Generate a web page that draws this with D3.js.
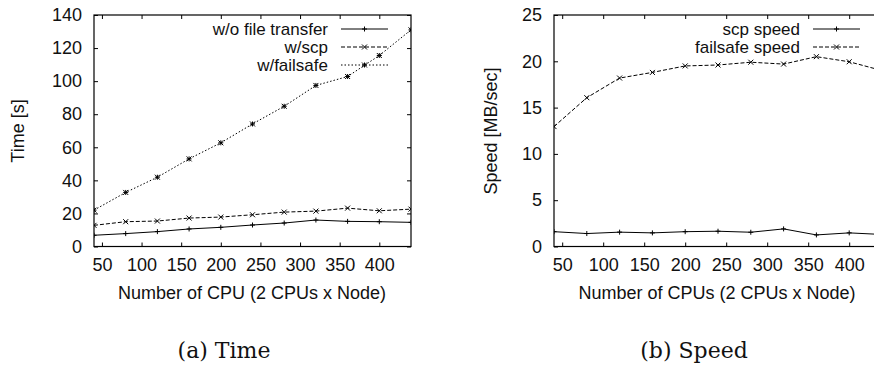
<!DOCTYPE html>
<html>
<head>
    <meta charset="utf-8">
    <title>Time / Speed</title>
    <style type="text/css">
        body {
            margin: 0;
            padding: 0;
            background: #fff;
        }

        text {
            font-family: "Liberation Sans", Arial, Helvetica, sans-serif;
            font-size: 18px;
            fill: #111;
        }

        .legend {
            font-size: 17px;
        }

        .caption {
            font-family: "DejaVu Serif", "Liberation Serif", serif;
            font-size: 22px;
        }
    </style>
</head>
<body>
    <svg id="chart" width="874" height="374"></svg>
    <script src="https://cdnjs.cloudflare.com/ajax/libs/d3/7.8.5/d3.min.js"></script>
    <script>
        // number of CPUs on the x axis (both panels)
        var cpus = [40, 80, 120, 160, 200, 240, 280, 320, 360, 400, 440];

        // (a) time in seconds
        var timeNoTransfer = [6.8, 7.8, 9.0, 10.6, 11.6, 13.0, 14.2, 16.0, 15.2, 15.0, 14.6];
        var timeScp = [12.8, 15.0, 15.4, 17.2, 17.8, 19.2, 20.8, 21.4, 23.2, 21.6, 22.6];
        var timeFailsafe = [22.0, 32.7, 41.9, 53.0, 62.7, 74.1, 84.8, 97.4, 102.8, 115.5, 131.0];

        // (b) speed in MB/sec
        var speedScp = [1.6, 1.4, 1.55, 1.47, 1.6, 1.65, 1.54, 1.9, 1.25, 1.47, 1.3];
        var speedFailsafe = [12.95, 16.07, 18.19, 18.8, 19.5, 19.6, 19.9, 19.7, 20.5, 19.95, 19.0];

        var xTicks = [50, 100, 150, 200, 250, 300, 350, 400];
        var timeTicks = [0, 20, 40, 60, 80, 100, 120, 140];
        var speedTicks = [0, 5, 10, 15, 20, 25];

        var svg = d3.select("#chart");
        svg.append("rect").attr("width", 874).attr("height", 374).attr("fill", "#fff");

        var dashes = { solid: null, dashed: "4,2", dotted: "1.5,2" };

        function marker(g, kind, x, y) {
            var s = 2.5;
            var p = "";
            if (kind == "plus" || kind == "star") {
                p += "M" + (x - s) + "," + y + "H" + (x + s) + "M" + x + "," + (y - s) + "V" + (y + s);
            }
            if (kind == "cross" || kind == "star") {
                p += "M" + (x - s) + "," + (y - s) + "L" + (x + s) + "," + (y + s);
                p += "M" + (x - s) + "," + (y + s) + "L" + (x + s) + "," + (y - s);
            }
            g.append("path").attr("d", p).attr("stroke", "#000").attr("stroke-width", 1).attr("fill", "none");
        }

        function panel(opt) {
            var x = d3.scaleLinear().domain([40, 440]).range([opt.left, opt.right]);
            var y = d3.scaleLinear().domain(opt.yDomain).range([246.5, 15]);
            var g = svg.append("g");

            var clip = "clip" + opt.id;
            svg.append("clipPath").attr("id", clip)
                .append("rect").attr("x", opt.left).attr("y", 15)
                .attr("width", opt.right - opt.left).attr("height", 231.5);

            // axes, ticks pointing inward like gnuplot
            g.append("g").attr("transform", "translate(0,246.5)")
                .call(d3.axisBottom(x).tickValues(xTicks).tickSizeInner(-4).tickSizeOuter(0).tickPadding(12));
            g.append("g").attr("transform", "translate(0,15)")
                .call(d3.axisTop(x).tickValues(xTicks).tickSizeInner(-4).tickSizeOuter(0).tickFormat(""));
            g.append("g").attr("transform", "translate(" + opt.left + ",0)")
                .call(d3.axisLeft(y).tickValues(opt.yTicks).tickSizeInner(-4).tickSizeOuter(0).tickPadding(12));
            g.append("g").attr("transform", "translate(" + opt.right + ",0)")
                .call(d3.axisRight(y).tickValues(opt.yTicks).tickSizeInner(-4).tickSizeOuter(0).tickFormat(""));
            g.selectAll(".domain").remove();
            g.selectAll(".tick line").attr("stroke", "#000");
            g.selectAll(".tick text").attr("font-size", null).attr("font-family", null).attr("fill", "#111");

            g.append("rect").attr("x", opt.left).attr("y", 15)
                .attr("width", opt.right - opt.left).attr("height", 231.5)
                .attr("fill", "none").attr("stroke", "#000").attr("stroke-width", 1.2);

            var line = d3.line().x(function (d, i) { return x(cpus[i]); }).y(function (d) { return y(d); });

            opt.series.forEach(function (s, k) {
                var sg = g.append("g").attr("clip-path", "url(#" + clip + ")");
                sg.append("path").datum(s.values).attr("d", line)
                    .attr("fill", "none").attr("stroke", "#000").attr("stroke-width", 1)
                    .attr("stroke-dasharray", dashes[s.dash]);
                s.values.forEach(function (v, i) { marker(sg, s.mark, x(cpus[i]), y(v)); });

                // legend row
                var ly = 29 + k * 18;
                g.append("text").attr("class", "legend").attr("x", opt.legendX).attr("y", ly).attr("dy", "0.35em")
                    .attr("text-anchor", "end").text(s.name);
                g.append("line").attr("x1", opt.legendX + 13).attr("x2", opt.legendX + 60)
                    .attr("y1", ly).attr("y2", ly).attr("stroke", "#000").attr("stroke-width", 1)
                    .attr("stroke-dasharray", dashes[s.dash]);
                marker(g, s.mark, opt.legendX + 36.5, ly);
            });

            g.append("text").attr("transform", "translate(" + opt.yTitleX + ",131) rotate(-90)")
                .attr("text-anchor", "middle").attr("dy", "0.35em").text(opt.yTitle);
            g.append("text").attr("x", opt.xTitleX).attr("y", 293).attr("dy", "0.35em")
                .attr("text-anchor", "middle").text(opt.xTitle);
            svg.append("text").attr("class", "caption").attr("x", opt.capX).attr("y", 350)
                .attr("dy", "0.35em").attr("text-anchor", "middle").text(opt.caption);
        }

        panel({
            id: "a", left: 94, right: 411, yDomain: [0, 140], yTicks: timeTicks,
            legendX: 328, yTitleX: 18, xTitleX: 252, capX: 224,
            yTitle: "Time [s]", xTitle: "Number of CPU (2 CPUs x Node)", caption: "(a) Time",
            series: [
                { name: "w/o file transfer", values: timeNoTransfer, dash: "solid", mark: "plus" },
                { name: "w/scp", values: timeScp, dash: "dashed", mark: "cross" },
                { name: "w/failsafe", values: timeFailsafe, dash: "dotted", mark: "star" }
            ]
        });

        panel({
            id: "b", left: 554, right: 882, yDomain: [0, 25], yTicks: speedTicks,
            legendX: 800, yTitleX: 491, xTitleX: 717, capX: 694,
            yTitle: "Speed [MB/sec]", xTitle: "Number of CPUs (2 CPUs x Node)", caption: "(b) Speed",
            series: [
                { name: "scp speed", values: speedScp, dash: "solid", mark: "plus" },
                { name: "failsafe speed", values: speedFailsafe, dash: "dashed", mark: "cross" }
            ]
        });
    </script>
</body>
</html>
